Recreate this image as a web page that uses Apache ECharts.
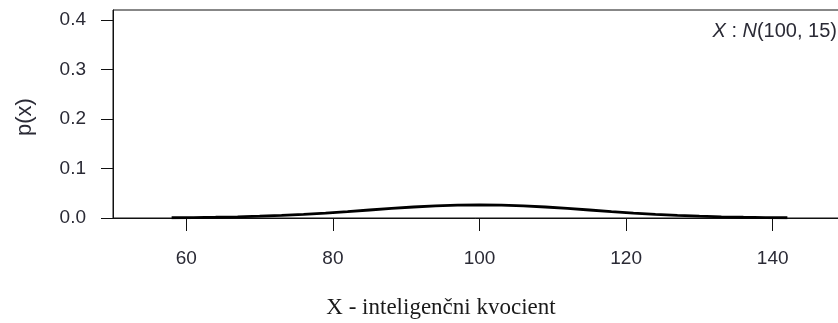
<!DOCTYPE html>
<html>
<head>
<meta charset="utf-8">
<script src="https://cdn.jsdelivr.net/npm/echarts@6/dist/echarts.min.js"></script>
<style>
html,body{margin:0;padding:0;background:#fff;overflow:hidden;}
#chart{width:838px;height:323px;}
</style>
</head>
<body>
<div id="chart"></div>
<script>
// IQ values (x) and density p(x)
var iqValues = [58, 61, 64, 67, 70, 73, 76, 79, 82, 85, 88, 91, 94, 97, 100,
                103, 106, 109, 112, 115, 118, 121, 124, 127, 130, 133, 136, 139, 142];
var density = [0.00053, 0.00091, 0.00149, 0.00237, 0.00360, 0.00526, 0.00740, 0.00998,
               0.01295, 0.01613, 0.01931, 0.02222, 0.02455, 0.02607, 0.02660,
               0.02607, 0.02455, 0.02222, 0.01931, 0.01613, 0.01295, 0.00998,
               0.00740, 0.00526, 0.00360, 0.00237, 0.00149, 0.00091, 0.00053];
var xTicks = [60, 80, 100, 120, 140];
var yTicks = [0, 0.1, 0.2, 0.3, 0.4];
var xTitle = 'X - inteligenčni kvocient';
var yTitle = 'p(x)';

var chart = echarts.init(document.getElementById('chart'), null, {renderer: 'canvas'});
var pts = iqValues.map(function (v, i) { return [v, density[i]]; });

chart.setOption({
  animation: false,
  backgroundColor: '#ffffff',
  grid: {
    left: 113, top: 10, width: 733, bottom: 105,
    outerBoundsMode: 'none', containLabel: false,
    show: true, borderColor: '#111', borderWidth: 1, backgroundColor: 'transparent'
  },
  xAxis: {
    type: 'value', min: 50, max: 150,
    axisLine: {show: true, lineStyle: {color: '#111', width: 1}},
    axisTick: {show: true, length: 13, lineStyle: {color: '#111', width: 1}, customValues: xTicks},
    axisLabel: {show: true, margin: 31, color: '#2a2a35', fontFamily: 'Liberation Sans, Arial, sans-serif', fontSize: 19, customValues: xTicks},
    splitLine: {show: false}
  },
  yAxis: {
    type: 'value', min: 0, max: 0.42,
    axisLine: {show: true, lineStyle: {color: '#111', width: 1}},
    axisTick: {show: true, length: 12, lineStyle: {color: '#111', width: 1}, customValues: yTicks},
    axisLabel: {show: true, margin: 27, color: '#2a2a35', fontFamily: 'Liberation Sans, Arial, sans-serif', fontSize: 19, customValues: yTicks,
      formatter: function (v) { return v.toFixed(1); }},
    splitLine: {show: false}
  },
  series: [{
    type: 'line', data: pts, showSymbol: false, smooth: false,
    lineStyle: {color: '#000', width: 2.8}, z: 3
  }],
  graphic: [
    {type: 'text', x: 441, y: 308, style: {text: xTitle, textAlign: 'center', textVerticalAlign: 'middle',
      font: '23px "Liberation Serif", "Times New Roman", serif', fill: '#1a1a1a'}},
    {type: 'text', x: 25, y: 117, rotation: Math.PI / 2, style: {text: yTitle, textAlign: 'center', textVerticalAlign: 'middle',
      font: '22px "Liberation Sans", Arial, sans-serif', fill: '#2a2a35'}},
    {type: 'text', x: 837, y: 31, style: {
      text: '{i|X}{n| : }{i|N}{n|(100, 15)}', textAlign: 'right', textVerticalAlign: 'middle',
      rich: {
        i: {fontStyle: 'italic', fontSize: 20, fontFamily: 'Liberation Sans, Arial, sans-serif', fill: '#2a2a35'},
        n: {fontSize: 20, fontFamily: 'Liberation Sans, Arial, sans-serif', fill: '#2a2a35'}
      }}}
  ]
});
</script>
</body>
</html>
